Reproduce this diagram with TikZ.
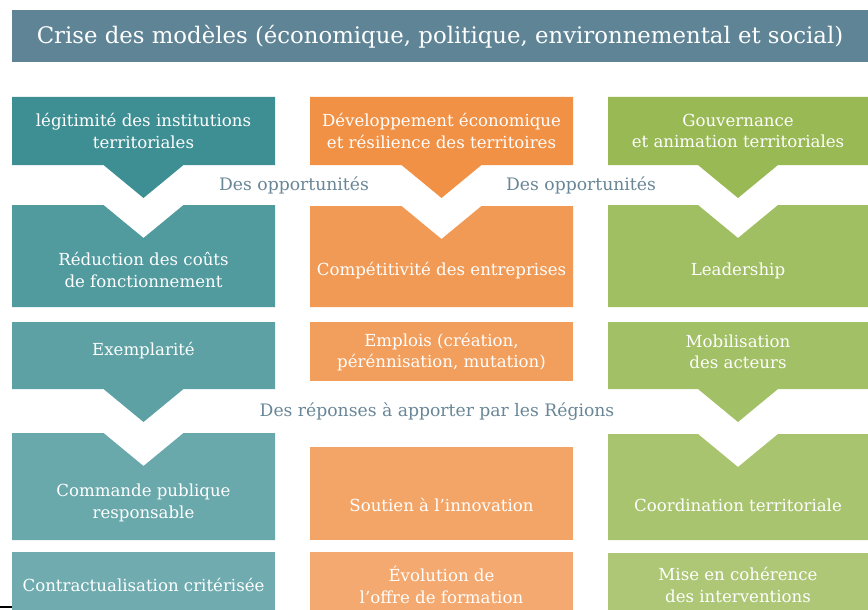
\documentclass[tikz,border=0pt]{standalone}
\usepackage{fontspec}
\setmainfont{DejaVu Serif}
\usepackage{tikz}
\usetikzlibrary{calc}
\definecolor{titlegray}{RGB}{94,132,150}
\definecolor{labelgray}{RGB}{104,134,150}
\definecolor{tealc}{RGB}{62,143,147}
\definecolor{orangec}{RGB}{240,145,70}
\definecolor{greenc}{RGB}{152,185,84}
\tikzset{
	boxtext/.style={text=white, align=center, inner sep=0pt, font=\fontsize{16.6}{21.5}\selectfont},
	gaptext/.style={text=labelgray, inner sep=0pt, font=\fontsize{17.2}{21.5}\selectfont},
}
% box with a chevron pointing down below it
\def\downbox[#1](#2,#3)(#4,#5){\fill[#1] (#2,#3) -- (#4,#3) -- (#4,#5) -- ({(#2+#4)/2+40},#5) -- ({(#2+#4)/2},{#5+33}) -- ({(#2+#4)/2-40},#5) -- (#2,#5) -- cycle;}
% box with a notch cut in its top
\def\notchbox[#1](#2,#3)(#4,#5){\fill[#1] (#2,#3) -- ({(#2+#4)/2-40},#3) -- ({(#2+#4)/2},{#3+33}) -- ({(#2+#4)/2+40},#3) -- (#4,#3) -- (#4,#5) -- (#2,#5) -- cycle;}

\begin{document}
\begin{tikzpicture}[x=1pt,y=-1pt]
		%%%%% START %%%%%
		\useasboundingbox (0,0) rectangle (868,610);
		\fill[titlegray] (12,10) rectangle (868,62);
		\node[text=white, inner sep=0pt, font=\fontsize{22.8}{26}\selectfont] (crise) at (440,37) {Crise des modèles (économique, politique, environnemental et social)};
		
		% teal column
		\downbox[tealc](12,97)(275,165)
		\notchbox[tealc!90](12,205)(275,307)
		\downbox[tealc!84](12,322)(275,389)
		\notchbox[tealc!78](12,433)(275,540)
		\fill[tealc!74] (12,552) rectangle (275,610);
		
		% orange column
		\downbox[orangec](310,97)(573,165)
		\notchbox[orangec!92](310,206)(573,307)
		\fill[orangec!88] (310,322) rectangle (573,381);
		\fill[orangec!82] (310,447) rectangle (573,540);
		\fill[orangec!78] (310,552) rectangle (573,610);
		
		% green column
		\downbox[greenc](608,97)(868,165)
		\notchbox[greenc!92](608,205)(868,307)
		\downbox[greenc!90](608,322)(868,389)
		\notchbox[greenc!84](608,434)(868,540)
		\fill[greenc!80] (608,553) rectangle (868,610);
		
		\draw[line width=1.5pt] (0,607) -- (12,607);
		
		\node[boxtext] (legit) at (143.5,131) {légitimité des institutions\\territoriales};
		\node[boxtext] (devel) at (441.5,131) {Développement économique\\et résilience des territoires};
		\node[boxtext] (gouv) at (738,131) {Gouvernance\\et animation territoriales};
		
		\node[gaptext] (opp1) at (294,185) {Des opportunités};
		\node[gaptext] (opp2) at (581,185) {Des opportunités};
		
		\node[boxtext] (reduc) at (143.5,270) {Réduction des coûts\\de fonctionnement};
		\node[boxtext] (compet) at (441.5,271) {Compétitivité des entreprises};
		\node[boxtext] (lead) at (738,271) {Leadership};
		
		\node[boxtext] (exemp) at (143.5,351) {Exemplarité};
		\node[boxtext] (emplois) at (441.5,352) {Emplois (création,\\pérénnisation, mutation)};
		\node[boxtext] (mobil) at (738,352) {Mobilisation\\des acteurs};
		
		\node[gaptext] (repons) at (437,412) {Des réponses à apporter par les Régions};
		
		\node[boxtext] (commande) at (143.5,503) {Commande publique\\responsable};
		\node[boxtext] (soutien) at (441.5,505) {Soutien à l’innovation};
		\node[boxtext] (coord) at (738,505) {Coordination territoriale};
		
		\node[boxtext] (contrat) at (143.5,585) {Contractualisation critérisée};
		\node[boxtext] (evol) at (441.5,585) {Évolution de\\l’offre de formation};
		\node[boxtext] (coher) at (738,585) {Mise en cohérence\\des interventions};
		%%%%% END %%%%%
	\end{tikzpicture}
\end{document}
